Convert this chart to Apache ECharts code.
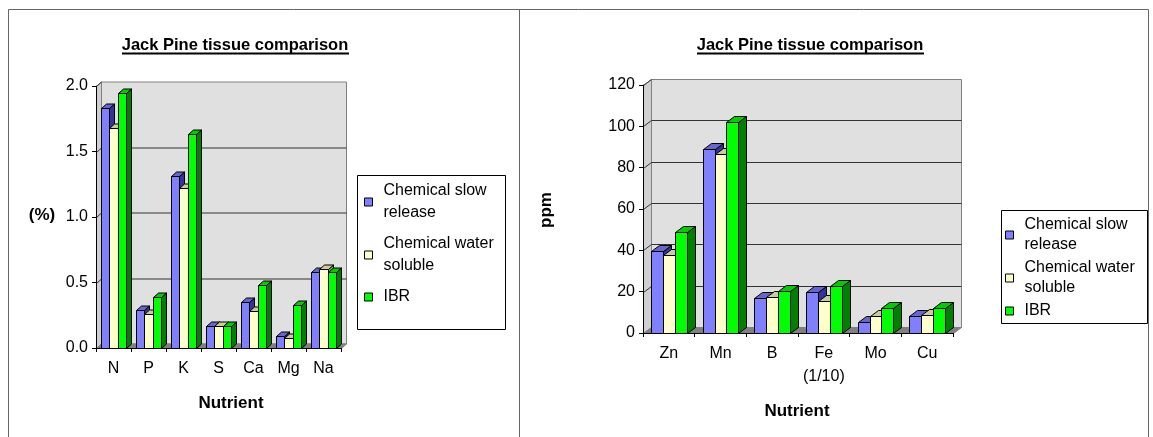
<!DOCTYPE html>
<html>
<head>
<meta charset="utf-8">
<script src="https://cdn.jsdelivr.net/npm/echarts@6/dist/echarts.min.js"></script>
<style>
    html, body { margin: 0; padding: 0; background: #fff; }
    #chart { width: 1153px; height: 437px; }
</style>
</head>
<body>
<div id="chart"></div>
<script>
// ---- data ----
var seriesNames = ['Chemical slow release', 'Chemical water soluble', 'IBR'];

var pctCategories = ['N', 'P', 'K', 'S', 'Ca', 'Mg', 'Na'];
var pctSlow = [1.83, 0.29, 1.31, 0.17, 0.35, 0.09, 0.58];
var pctSoluble = [1.68, 0.26, 1.22, 0.17, 0.28, 0.08, 0.60];
var pctIbr = [1.95, 0.39, 1.63, 0.17, 0.48, 0.33, 0.58];
var pctTicks = [0, 0.5, 1.0, 1.5, 2.0];

var ppmCategories = ['Zn', 'Mn', 'B', 'Fe\n(1/10)', 'Mo', 'Cu'];
var ppmSlow = [39.8, 88.9, 16.7, 19.6, 5.1, 8.3];
var ppmSoluble = [37.6, 86.5, 17.5, 15.4, 8.0, 8.8];
var ppmIbr = [49.0, 102, 20.5, 22.8, 12.0, 12.0];
var ppmTicks = [0, 20, 40, 60, 80, 100, 120];

var FONT = '"Liberation Sans", Arial, sans-serif';
var palette = [
    {front: '#8080ff', top: '#6666cc', side: '#333399'},
    {front: '#ffffcc', top: '#cccc99', side: '#999966'},
    {front: '#00ff00', top: '#00cc00', side: '#008000'}
];
var legendText = {
    'Chemical slow release': 'Chemical slow\nrelease',
    'Chemical water soluble': 'Chemical water\nsoluble',
    'IBR': 'IBR'
};

// depth of the fake 3d look, per chart
var depth = [{dx: 5, dy: 4.5}, {dx: 8, dy: 6}];

function px(v) {
    return Math.round(v) + 0.5;
}

// back wall, side wall, floor and gridlines
function wallRenderer(d, ticks) {
    return function (params, api) {
        var cs = params.coordSys;
        var L = px(cs.x), T = px(cs.y), R = px(cs.x + cs.width), B = px(cs.y + cs.height);
        var kids = [
            {type: 'rect', shape: {x: L + d.dx, y: T - d.dy, width: R - L, height: B - T},
                style: {fill: '#e0e0e0', stroke: '#808080', lineWidth: 1}},
            {type: 'polygon', shape: {points: [[L, T], [L + d.dx, T - d.dy], [L + d.dx, B - d.dy], [L, B]]},
                style: {fill: '#d0d0d0', stroke: '#808080', lineWidth: 1}},
            {type: 'polygon', shape: {points: [[L, B], [L + d.dx, B - d.dy], [R + d.dx, B - d.dy], [R, B]]},
                style: {fill: '#808080', stroke: '#808080', lineWidth: 1}}
        ];
        for (var i = 0; i < ticks.length; i++) {
            if (ticks[i] === 0) continue;
            var y = px(api.coord([0, ticks[i]])[1]);
            if (i < ticks.length - 1) {
                kids.push({type: 'line', shape: {x1: L + d.dx, y1: y - d.dy, x2: R + d.dx, y2: y - d.dy},
                    style: {stroke: '#333', lineWidth: 1}});
            }
            kids.push({type: 'line', shape: {x1: L, y1: y, x2: L + d.dx, y2: y - d.dy},
                style: {stroke: '#333', lineWidth: 1}});
        }
        return {type: 'group', children: kids};
    };
}

// one 3d-looking column: side, top, then front face
function barRenderer(d, idx) {
    return function (params, api) {
        var c = api.value(0), v = api.value(1);
        var p0 = api.coord([c, 0]), p1 = api.coord([c, v]);
        var band = api.size([1, 0])[0];
        var w = band * 0.232;
        var x0 = px(p0[0] - 1.5 * w + idx * w);
        var x1 = px(p0[0] - 1.5 * w + (idx + 1) * w);
        var yb = px(p0[1]), yt = px(p1[1]);
        var col = palette[idx];
        var st = function (fill) {
            return {fill: fill, stroke: '#000', lineWidth: 1};
        };
        return {
            type: 'group',
            children: [
                {type: 'polygon', shape: {points: [[x1, yt], [x1 + d.dx, yt - d.dy], [x1 + d.dx, yb - d.dy], [x1, yb]]}, style: st(col.side)},
                {type: 'polygon', shape: {points: [[x0, yt], [x1, yt], [x1 + d.dx, yt - d.dy], [x0 + d.dx, yt - d.dy]]}, style: st(col.top)},
                {type: 'rect', shape: {x: x0, y: yt, width: x1 - x0, height: yb - yt}, style: st(col.front)}
            ]
        };
    };
}

function barSeries(gi, idx, cats, values) {
    var data = [];
    for (var i = 0; i < cats.length; i++) data.push([i, values[i]]);
    return {
        type: 'custom',
        name: seriesNames[idx],
        xAxisIndex: gi,
        yAxisIndex: gi,
        z: 3,
        itemStyle: {color: palette[idx].front, borderColor: '#000', borderWidth: 1},
        renderItem: barRenderer(depth[gi], idx),
        encode: {x: 0, y: 1},
        data: data
    };
}

function wallSeries(gi, ticks) {
    return {
        type: 'custom',
        name: 'wall' + gi,
        xAxisIndex: gi,
        yAxisIndex: gi,
        z: 1,
        silent: true,
        renderItem: wallRenderer(depth[gi], ticks),
        data: [[0, 0]]
    };
}

// Excel spreads the legend entries over the frame height, so the gaps differ
function legendOpt(left, top, lineH, gap) {
    return {
        orient: 'vertical',
        left: left,
        top: top,
        padding: 0,
        itemGap: gap,
        itemWidth: 8,
        itemHeight: 8,
        icon: 'rect',
        selectedMode: false,
        data: seriesNames,
        itemStyle: {borderColor: '#000', borderWidth: 1},
        formatter: function (name) {
            return legendText[name];
        },
        textStyle: {fontFamily: FONT, fontSize: 16, color: '#000', lineHeight: lineH, padding: [0, 0, 0, 6]}
    };
}

var axisLabelStyle = {fontFamily: FONT, fontSize: 16, color: '#000'};
var titleFont = 'bold 16.5px ' + FONT;
var nameFont = 'bold 17px ' + FONT;

var chart = echarts.init(document.getElementById('chart'), null, {renderer: 'canvas'});
chart.setOption({
    animation: false,
    backgroundColor: '#fff',
    grid: [
        {left: 96, top: 86, width: 245, height: 262},
        {left: 643, top: 85, width: 310, height: 248}
    ],
    xAxis: [
        {
            type: 'category', gridIndex: 0, data: pctCategories, z: 5,
            axisLine: {lineStyle: {color: '#000', width: 1}},
            axisTick: {show: true, length: 4, lineStyle: {color: '#000'}},
            axisLabel: Object.assign({margin: 10, lineHeight: 22, interval: 0}, axisLabelStyle)
        },
        {
            type: 'category', gridIndex: 1, data: ppmCategories, z: 5,
            axisLine: {lineStyle: {color: '#000', width: 1}},
            axisTick: {show: true, length: 4, lineStyle: {color: '#000'}},
            axisLabel: Object.assign({margin: 9, lineHeight: 23, interval: 0, verticalAlign: 'top'}, axisLabelStyle)
        }
    ],
    yAxis: [
        {
            type: 'value', gridIndex: 0, min: 0, max: 2, interval: 0.5, z: 5,
            axisLine: {show: true, lineStyle: {color: '#000', width: 1}},
            axisTick: {show: true, length: 4, lineStyle: {color: '#000'}},
            splitLine: {show: false},
            axisLabel: Object.assign({margin: 8, formatter: function (v) { return v.toFixed(1); }}, axisLabelStyle)
        },
        {
            type: 'value', gridIndex: 1, min: 0, max: 120, interval: 20, z: 5,
            axisLine: {show: true, lineStyle: {color: '#000', width: 1}},
            axisTick: {show: true, length: 4, lineStyle: {color: '#000'}},
            splitLine: {show: false},
            axisLabel: Object.assign({margin: 8}, axisLabelStyle)
        }
    ],
    legend: [legendOpt(364, 180, 22, 9), legendOpt(1005, 215, 20, 3)],
    graphic: [
        // panel frames
        {type: 'rect', shape: {x: 8.5, y: 9.5, width: 1140, height: 440}, style: {fill: null, stroke: '#666', lineWidth: 1}, silent: true},
        {type: 'line', shape: {x1: 519.5, y1: 9.5, x2: 519.5, y2: 437}, style: {stroke: '#666', lineWidth: 1}, silent: true},
        // titles
        {type: 'text', x: 235, y: 45, style: {text: 'Jack Pine tissue comparison', font: titleFont, fill: '#000', align: 'center', verticalAlign: 'middle'}},
        {type: 'line', shape: {x1: 122, y1: 53.5, x2: 349, y2: 53.5}, style: {stroke: '#000', lineWidth: 2}},
        {type: 'text', x: 810, y: 45, style: {text: 'Jack Pine tissue comparison', font: titleFont, fill: '#000', align: 'center', verticalAlign: 'middle'}},
        {type: 'line', shape: {x1: 697, y1: 53.5, x2: 924, y2: 53.5}, style: {stroke: '#000', lineWidth: 2}},
        // axis names
        {type: 'text', x: 42, y: 215, style: {text: '(%)', font: nameFont, fill: '#000', align: 'center', verticalAlign: 'middle'}},
        {type: 'text', x: 231, y: 403, style: {text: 'Nutrient', font: nameFont, fill: '#000', align: 'center', verticalAlign: 'middle'}},
        {type: 'text', x: 546, y: 210, rotation: Math.PI / 2, style: {text: 'ppm', font: nameFont, fill: '#000', align: 'center', verticalAlign: 'middle'}},
        {type: 'text', x: 797, y: 411, style: {text: 'Nutrient', font: nameFont, fill: '#000', align: 'center', verticalAlign: 'middle'}},
        // legend frames
        {type: 'rect', shape: {x: 357.5, y: 175.5, width: 148, height: 154}, style: {fill: null, stroke: '#000', lineWidth: 1}, silent: true},
        {type: 'rect', shape: {x: 1001.5, y: 210.5, width: 146, height: 113}, style: {fill: null, stroke: '#000', lineWidth: 1}, silent: true}
    ],
    series: [
        wallSeries(0, pctTicks),
        barSeries(0, 0, pctCategories, pctSlow),
        barSeries(0, 1, pctCategories, pctSoluble),
        barSeries(0, 2, pctCategories, pctIbr),
        wallSeries(1, ppmTicks),
        barSeries(1, 0, ppmCategories, ppmSlow),
        barSeries(1, 1, ppmCategories, ppmSoluble),
        barSeries(1, 2, ppmCategories, ppmIbr)
    ]
});
</script>
</body>
</html>
